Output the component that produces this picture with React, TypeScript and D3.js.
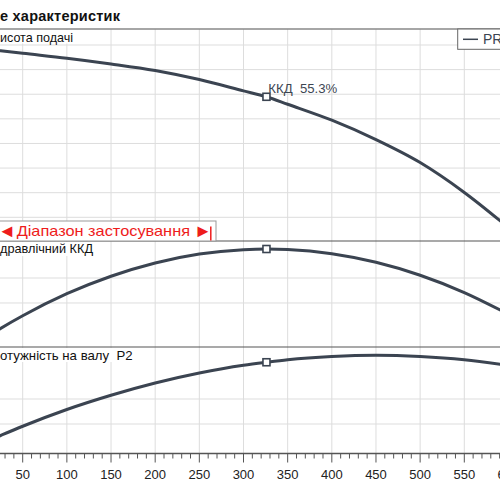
import React from "react";
import * as d3 from "d3";

// ---- data ----
const qValues = [0, 25, 50, 100, 150, 200, 250, 300, 326, 350, 400, 450, 500, 550, 600];
const headValues = [44.33, 43.83, 43.32, 42.33, 41.16, 39.82, 37.98, 35.69, 34.48, 32.96, 29.72, 25.78, 21.12, 15.05, 7.9];
const effValues = [0, 8.1, 15.6, 28.7, 39.1, 47.0, 52.3, 54.9, 55.3, 55.0, 52.5, 47.4, 39.7, 29.4, 16.5];
const powerValues = [21.6, 25.4, 29.1, 35.8, 41.5, 46.4, 50.4, 53.5, 54.7, 55.7, 57.0, 57.5, 57.0, 55.7, 53.4];
const bepIndex = 8;
const bepLabel = "ККД  55.3%";

const xMajorTicks = [0, 50, 100, 150, 200, 250, 300, 350, 400, 450, 500, 550, 600];
const xMinorTicks = d3.range(0, 601, 10);
const headGridTicks = [10, 15, 20, 25, 30, 35, 40, 45];
const effGridTicks = [23.2, 38.05];
const powerGridTicks = [30, 40];

const titleText = "е характеристик";
const headLabel = "исота подачі";
const effLabel = "дравлічний ККД";
const powerLabel = "отужність на валу  P2";
const rangeLabel = "Діапазон застосування";
const legendLabel = "PR";

const CURVE = "#3b4451";
const GRID = "#dddddd";
const RED = "#ee1c1c";
const FONT = "'Liberation Sans', Arial, 'DejaVu Sans', sans-serif";

export default function App() {
  const x = d3.scaleLinear().domain([0, 600]).range([-21.46, 508.46]);
  const yH = d3.scaleLinear().domain([10, 45]).range([217.3, 45]);
  const yE = d3.scaleLinear().domain([0, 55.3]).range([342, 249]);
  const yP = d3.scaleLinear().domain([30, 40]).range([424, 399]);

  const p1 = { top: 29, bottom: 241 };
  const p2 = { top: 241, bottom: 347 };
  const p3 = { top: 347, bottom: 453.5 };

  const mk = (ys: number[], y: d3.ScaleLinear<number, number>) =>
    d3
      .line<number>()
      .x((_, i) => x(qValues[i]))
      .y((d) => y(d))
      .curve(d3.curveMonotoneX)(ys) as string;

  const bx = x(qValues[bepIndex]);
  const marker = (cy: number) => (
    <rect x={bx - 3.5} y={cy - 3.5} width={7} height={7} fill="#fff" stroke={CURVE} strokeWidth={1.6} />
  );
  const pre = { whiteSpace: "pre" as const };

  return (
    <svg
      width={500}
      height={500}
      style={{ position: "absolute", left: 0, top: 0, background: "#fff" }}
      fontFamily={FONT}
    >
      <rect x={0} y={0} width={500} height={500} fill="#fff" />
      {/* title */}
      <text x={0} y={20.7} fontSize={14.5} fontWeight="bold" fill="#111" textLength={120} lengthAdjust="spacing">
        {titleText}
      </text>

      {/* vertical grid */}
      {xMajorTicks.filter((t) => t > 0 && t < 600).map((t) => (
        <line key={"vg" + t} x1={x(t)} x2={x(t)} y1={p1.top} y2={p3.bottom} stroke={GRID} strokeWidth={1} />
      ))}
      {/* horizontal grids */}
      {headGridTicks.map((t) => (
        <line key={"hg" + t} x1={0} x2={500} y1={yH(t)} y2={yH(t)} stroke={GRID} strokeWidth={1} />
      ))}
      {effGridTicks.map((t) => (
        <line key={"eg" + t} x1={0} x2={500} y1={yE(t)} y2={yE(t)} stroke={GRID} strokeWidth={1} />
      ))}
      {powerGridTicks.map((t) => (
        <line key={"pg" + t} x1={0} x2={500} y1={yP(t)} y2={yP(t)} stroke={GRID} strokeWidth={1} />
      ))}

      {/* panel borders */}
      <line x1={0} x2={500} y1={p1.top} y2={p1.top} stroke="#888" strokeWidth={1.5} />
      <line x1={0} x2={500} y1={p2.top} y2={p2.top} stroke="#555" strokeWidth={1.2} />
      <line x1={0} x2={500} y1={p3.top} y2={p3.top} stroke="#555" strokeWidth={1.2} />

      {/* panel labels with white backgrounds */}
      <rect x={0} y={p1.top + 1} width={75} height={13.5} fill="#fff" />
      <text x={0} y={41.7} fontSize={13} fill="#111" textLength={73} lengthAdjust="spacingAndGlyphs">{headLabel}</text>
      <rect x={0} y={p2.top + 1} width={95} height={14} fill="#fff" />
      <text x={0} y={253.3} fontSize={13} fill="#111" textLength={93} lengthAdjust="spacingAndGlyphs">{effLabel}</text>
      <rect x={0} y={p3.top + 1} width={135} height={14} fill="#fff" />
      <text x={0} y={359.5} fontSize={13} fill="#111" textLength={132.7} lengthAdjust="spacingAndGlyphs" style={pre}>{powerLabel}</text>

      {/* application range box */}
      <rect x={-2} y={221} width={218} height={20} fill="#fff" stroke="#999" strokeWidth={1} />
      <text x={-2} y={236.5} fontSize={18} fill={RED}>◄</text>
      <text x={16.7} y={236} fontSize={14.5} fill={RED} textLength={173.3} lengthAdjust="spacingAndGlyphs">{rangeLabel}</text>
      <text x={194} y={236.5} fontSize={18} fill={RED}>►</text>
      <line x1={210.8} x2={210.8} y1={226.5} y2={240.5} stroke={RED} strokeWidth={1.5} />

      {/* curves */}
      <path d={mk(headValues, yH)} fill="none" stroke={CURVE} strokeWidth={3} />
      <path d={mk(effValues, yE)} fill="none" stroke={CURVE} strokeWidth={3} />
      <path d={mk(powerValues, yP)} fill="none" stroke={CURVE} strokeWidth={3} />
      {marker(yH(headValues[bepIndex]))}
      {marker(yE(effValues[bepIndex]))}
      {marker(yP(powerValues[bepIndex]))}
      <text x={268.3} y={92.7} fontSize={13.5} fill="#3d4652" textLength={69} lengthAdjust="spacingAndGlyphs" style={pre}>{bepLabel}</text>

      {/* legend */}
      <rect x={457.7} y={29} width={60} height={20.3} fill="#fff" stroke="#666" strokeWidth={1} />
      <line x1={463} x2={478} y1={39.3} y2={39.3} stroke={CURVE} strokeWidth={1.5} />
      <text x={483} y={44.3} fontSize={14} fill={CURVE}>{legendLabel}</text>

      {/* x axis */}
      <line x1={0} x2={500} y1={p3.bottom} y2={p3.bottom} stroke="#555" strokeWidth={1.5} />
      {xMinorTicks.map((t) => (
        <line key={"mt" + t} x1={x(t)} x2={x(t)} y1={p3.bottom} y2={p3.bottom + (t % 50 === 0 ? 9 : 5)} stroke="#555" strokeWidth={1} />
      ))}
      {xMajorTicks.filter((t) => t > 0).map((t) => (
        <text key={"tl" + t} x={x(t)} y={479} fontSize={13} textAnchor="middle" fill="#222">
          {t}
        </text>
      ))}
    </svg>
  );
}
